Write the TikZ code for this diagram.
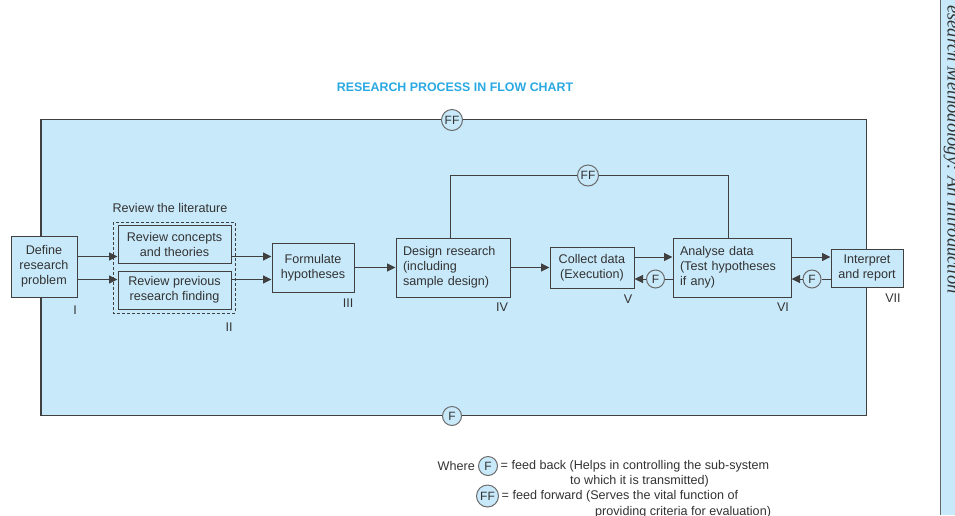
\documentclass[tikz,border=0pt]{standalone}
\usepackage{fontspec}
\setmainfont{Liberation Sans}
\newfontfamily\sideserif{Liberation Serif}
\usetikzlibrary{arrows.meta,calc}
\definecolor{bgblue}{HTML}{C8E9FA}
\definecolor{ttlblue}{HTML}{2AA8E2}
\definecolor{txtgray}{HTML}{333333}
\definecolor{edgegray}{HTML}{404040}
\definecolor{circgray}{HTML}{6A6A6A}
\begin{document}
\begin{tikzpicture}[x=1pt,y=-1pt,
  font=\fontsize{12.6}{15}\selectfont,
  txt/.style={text=txtgray},
  box/.style={draw=edgegray,line width=1pt,fill=bgblue,text=txtgray,inner sep=0pt,align=center},
  lbox/.style={box,align=left,text width=#1},
  fcirc/.style={circle,draw=circgray,line width=1pt,fill=bgblue,text=txtgray,inner sep=0pt,minimum size=#1,font=\fontsize{12}{12}\selectfont},
  conn/.style={draw=edgegray,line width=1pt},
  arr/.style={conn,-{Triangle[length=8.5pt,width=8pt]}},
  roman/.style={text=txtgray,inner sep=0pt}
]
\useasboundingbox (0,0) rectangle (955,515);
% side strip
\fill[bgblue] (941,0) rectangle (955,515);
\draw[gray!80!black,line width=1.6pt] (940.5,0) -- (940.5,515);
\node[anchor=base west,rotate=-90,inner sep=0pt,text=txtgray,font=\sideserif\itshape\fontsize{18.5}{18.5}\selectfont] (side) at (947.5,5) {esearch Methodology: An Introduction};
% title
\node[text=ttlblue,font=\bfseries\fontsize{12.4}{15}\selectfont] (title) at (455,87.5) {RESEARCH PROCESS IN FLOW CHART};
% main panel
\draw[fill=bgblue,draw=edgegray,line width=1.2pt] (41,119.5) rectangle (866.5,415.5);
\node[fcirc=21pt] (ff0) at (452,120) {FF};
\node[fcirc=19pt] (f0) at (452,416) {F};
% nodes
\node[box,minimum width=66pt,minimum height=61pt] (def) at (44,266.5) {Define\\research\\problem};
\node[roman] (r1) at (75,310) {I};
\draw[edgegray,line width=0.9pt,dash pattern=on 3pt off 2pt] (113,222) rectangle (235,313);
\node[txt] (lit) at (170,208) {Review the literature};
\node[box,minimum width=113pt,minimum height=38pt] (con) at (174.5,244) {Review concepts\\and theories};
\node[box,minimum width=113pt,minimum height=38pt] (prv) at (174.5,290) {Review previous\\research finding};
\node[roman] (r2) at (229,327) {II};
\node[box,minimum width=82pt,minimum height=49pt] (frm) at (313,267.5) {Formulate\\hypotheses};
\node[roman] (r3) at (348,303) {III};
\node[lbox=100pt,minimum width=114pt,minimum height=59pt] (des) at (453,267.5) {Design research\\(including\\sample design)};
\node[roman] (r4) at (502,307) {IV};
\node[box,minimum width=84pt,minimum height=41pt] (col) at (592,267.5) {Collect data\\(Execution)};
\node[roman] (r5) at (628,299) {V};
\node[lbox=104pt,minimum width=118pt,minimum height=59pt] (ana) at (732,267.5) {Analyse data\\(Test hypotheses\\if any)};
\node[roman] (r6) at (783,307) {VI};
\node[box,minimum width=72pt,minimum height=38pt] (int) at (867,268) {Interpret\\and report};
\node[roman] (r7) at (893,298) {VII};
% connectors
\coordinate (ya) at (0,256.5);
\coordinate (yb) at (0,279.5);
\draw[arr] (def.east |- ya) -- (con.west |- ya);
\draw[arr] (def.east |- yb) -- (prv.west |- yb);
\draw[arr] (con.east |- ya) -- (frm.west |- ya);
\draw[arr] (prv.east |- yb) -- (frm.west |- yb);
\draw[arr] (frm.east) -- (des.west |- frm.east);
\draw[arr] (des.east) -- (col.west |- des.east);
\coordinate (yc) at (0,257);
\coordinate (yd) at (0,279);
\draw[arr] (col.east |- yc) -- (ana.west |- yc);
\draw[arr] (ana.east |- yc) -- (int.west |- yc);
\node[fcirc=18pt] (fb1) at (655.5,279) {F};
\node[fcirc=18pt] (fb2) at (812,279) {F};
\draw[conn] (ana.west |- fb1) -- (fb1);
\draw[arr] (fb1) -- (col.east |- fb1);
\draw[conn] (int.west |- fb2) -- (fb2);
\draw[arr] (fb2) -- (ana.east |- fb2);
% feed-forward loop
\coordinate (ffl) at (450,175.5);
\coordinate (ffr) at (728.5,175.5);
\node[fcirc=21pt] (ff1) at (588,175.5) {FF};
\draw[conn] (des.north -| ffl) -- (ffl) -- (ff1) -- (ffr) -- (ana.north -| ffr);
% legend
\node[txt,anchor=east,inner sep=0pt] (wh) at (475,466) {Where};
\node[fcirc=19pt] (lf) at (488,466) {F};
\node[txt,anchor=west,inner sep=0pt] (l1) at (500.5,466) {= feed back (Helps in controlling the sub-system};
\node[txt,anchor=west,inner sep=0pt] (l2) at (570,481) {to which it is transmitted)};
\node[fcirc=22pt] (lff) at (487.5,496) {FF};
\node[txt,anchor=west,inner sep=0pt] (l3) at (501.5,496) {= feed forward (Serves the vital function of};
\node[txt,anchor=west,inner sep=0pt] (l4) at (595,512.5) {providing criteria for evaluation)};
\end{tikzpicture}
\end{document}
